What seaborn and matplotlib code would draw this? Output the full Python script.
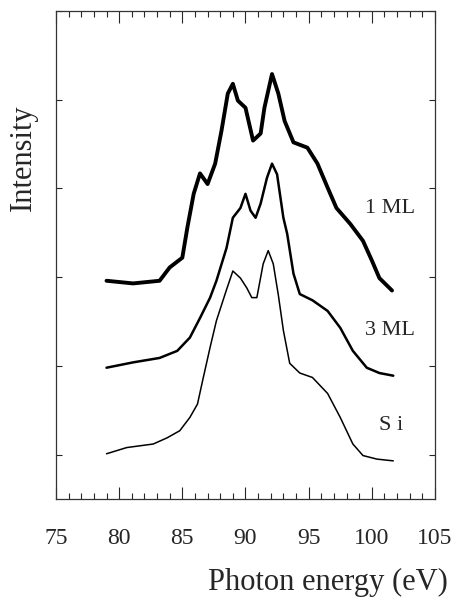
import pandas as pd
import seaborn as sns
import matplotlib.pyplot as plt
from matplotlib.ticker import MultipleLocator

# Spectra (photon energy in eV, intensity in offset units)
ml1_energy = [79.0, 81.1, 83.2, 84.0, 85.0, 85.4, 85.9, 86.4, 87.0, 87.6, 88.1, 88.6,
              89.0, 89.4, 90.0, 90.6, 91.2, 91.5, 92.1, 92.6, 93.1, 93.8, 94.9, 95.7,
              96.5, 97.2, 98.3, 99.3, 100.0, 100.6, 101.6]
ml1_intensity = [1.96, 1.93, 1.96, 2.11, 2.22, 2.56, 2.94, 3.17, 3.05, 3.28, 3.65, 4.07,
                 4.18, 3.99, 3.91, 3.54, 3.62, 3.91, 4.29, 4.07, 3.76, 3.52, 3.46, 3.28,
                 3.01, 2.78, 2.60, 2.41, 2.19, 1.99, 1.85]

ml3_energy = [79.0, 81.1, 83.2, 84.6, 85.6, 86.4, 87.2, 87.7, 88.5, 89.0, 89.6, 90.0,
              90.4, 90.8, 91.2, 91.7, 92.1, 92.5, 93.0, 93.3, 93.8, 94.3, 95.3, 96.5,
              97.5, 98.5, 99.6, 100.6, 101.7]
ml3_intensity = [0.98, 1.04, 1.09, 1.17, 1.32, 1.54, 1.77, 1.96, 2.33, 2.67, 2.78, 2.94,
                 2.75, 2.67, 2.83, 3.12, 3.28, 3.16, 2.67, 2.49, 2.04, 1.81, 1.74, 1.62,
                 1.43, 1.17, 0.98, 0.92, 0.89]

si_energy = [79.0, 80.6, 82.7, 83.8, 84.8, 85.6, 86.2, 86.6, 87.2, 87.7, 88.5, 89.0,
             89.6, 90.1, 90.5, 90.9, 91.4, 91.8, 92.2, 92.6, 93.0, 93.5, 94.3, 95.3,
             96.5, 97.5, 98.5, 99.3, 100.4, 101.7]
si_intensity = [0.01, 0.08, 0.12, 0.19, 0.27, 0.42, 0.57, 0.83, 1.21, 1.51, 1.86, 2.07,
                1.99, 1.88, 1.77, 1.77, 2.15, 2.30, 2.15, 1.80, 1.40, 1.03, 0.92, 0.87,
                0.69, 0.42, 0.12, -0.01, -0.05, -0.07]

ml1 = pd.DataFrame({'energy': ml1_energy, 'intensity': ml1_intensity})
ml3 = pd.DataFrame({'energy': ml3_energy, 'intensity': ml3_intensity})
si = pd.DataFrame({'energy': si_energy, 'intensity': si_intensity})

sns.set_theme(style='ticks')
plt.rcParams['font.family'] = ['Liberation Serif', 'DejaVu Serif']

fig = plt.figure(figsize=(4.53, 6), dpi=100)
ax = fig.add_axes([0.1236, 0.1683, 0.8366, 0.8133])

sns.lineplot(data=ml1, x='energy', y='intensity', color='black', linewidth=2.8, ax=ax)
sns.lineplot(data=ml3, x='energy', y='intensity', color='black', linewidth=1.8, ax=ax)
sns.lineplot(data=si, x='energy', y='intensity', color='black', linewidth=1.1, ax=ax)

# Curve labels
ax.text(101.45, 2.78, '1 ML', fontsize=16, ha='center', va='center')
ax.text(101.45, 1.40, '3 ML', fontsize=16, ha='center', va='center')
ax.text(101.5, 0.33, 'S i', fontsize=16, ha='center', va='center')

ax.set_xlim(75, 105)
ax.set_ylim(-0.5, 5.0)
ax.xaxis.set_major_locator(MultipleLocator(5))
ax.xaxis.set_minor_locator(MultipleLocator(1))
ax.yaxis.set_major_locator(MultipleLocator(1))
ax.set_yticklabels([])

ax.tick_params(axis='x', which='major', direction='in', length=8.5, width=0.8,
               top=True, bottom=True, pad=21, labelsize=17)
ax.tick_params(axis='x', which='minor', direction='in', length=4.3, width=0.8,
               top=True, bottom=True)
ax.tick_params(axis='y', which='major', direction='in', length=4, width=0.8,
               left=True, right=True)
for spine in ax.spines.values():
    spine.set_linewidth(0.9)
    spine.set_color('#333333')

ax.set_xlabel('Photon energy (eV)', fontsize=22, ha='right', va='center')
ax.xaxis.set_label_coords(1.034, -0.172)
ax.set_ylabel('Intensity', fontsize=22, va='center')
ax.yaxis.set_label_coords(-0.087, 0.70)

fig.savefig('out.png', dpi=100)
